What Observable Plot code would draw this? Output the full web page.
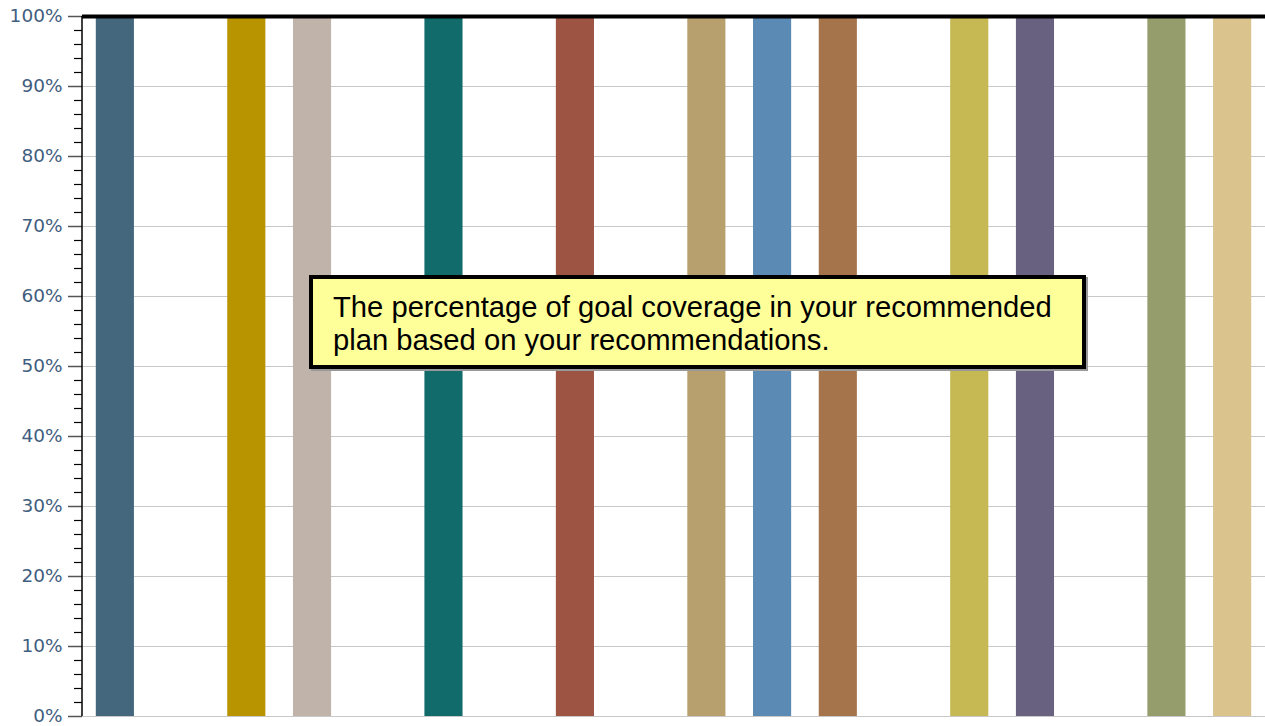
<!DOCTYPE html>
<html>
<head>
<meta charset="utf-8">
<script src="https://cdn.jsdelivr.net/npm/d3@7"></script>
<script src="https://cdn.jsdelivr.net/npm/@observablehq/plot@0.6"></script>
<style>
  html, body { margin: 0; padding: 0; background: #fff; }
  #wrap { position: relative; width: 1265px; height: 726px; }
  #note {
    position: absolute; left: 309px; top: 275px; width: 769px; height: 86px;
    box-sizing: content-box;
    border: 4px solid #000; background: #ffff99;
    box-shadow: 2px 2px 0 #999;
    font-family: "Liberation Sans", Arial, sans-serif; font-size: 29.2px; line-height: 33px;
    color: #000; padding: 0;
  }
  #note div { position: absolute; left: 20px; top: 12px; width: 748px; }
  #chart svg g[aria-label="y-axis tick label"] text { font-size: 18.5px; font-family: "DejaVu Sans", sans-serif; }
</style>
</head>
<body>
<div id="wrap">
  <div id="chart"></div>
  <div id="note"><div>The percentage of goal coverage in your recommended plan based on your recommendations.</div></div>
</div>
<script>
const categories = ["G1","G2","G3","G4","G5","G6","G7","G8","G9","G10","G11","G12","G13","G14","G15","G16","G17","G18"];
const values     = [100, 0, 100, 100, 0, 100, 0, 100, 0, 100, 100, 100, 0, 100, 100, 0, 100, 100];
const colors     = ["#44677d", "#ffffff", "#b89400", "#c0b3aa", "#ffffff", "#126b6b", "#ffffff", "#9e5442", "#ffffff",
                    "#b8a06e", "#5b8ab5", "#a5744a", "#ffffff", "#c6b852", "#68617f", "#ffffff", "#969d6c", "#dac38c"];
const majorTicks = d3.range(0, 101, 10);
const minorTicks = d3.range(0, 101, 2).filter(d => d % 10 !== 0);

const data = categories.map((c, i) => ({cat: c, value: values[i], color: colors[i]}));

const chart = Plot.plot({
  width: 1265,
  height: 726,
  marginLeft: 82,
  marginRight: 0,
  marginTop: 16,
  marginBottom: 10,
  style: {fontFamily: "DejaVu Sans, sans-serif", background: "#fff"},
  x: {domain: categories, paddingInner: 0.42, paddingOuter: 0.21, round: false, axis: null},
  y: {domain: [0, 100], axis: null},
  marks: [
    Plot.gridY(majorTicks, {stroke: "#c8c8c8", strokeOpacity: 1, strokeWidth: 1}),
    Plot.barY(data, {x: "cat", y: "value", fill: "color"}),
    Plot.axisY(minorTicks, {tickSize: 8, tickFormat: () => "", label: null, stroke: "#000", strokeWidth: 1.2}),
    Plot.axisY(majorTicks, {tickSize: 14, tickPadding: 6, tickFormat: d => d + "%", label: null, stroke: "#555", strokeWidth: 1.5, fill: "#3f5e80", fontSize: 18.5}),
    Plot.ruleY([100], {stroke: "#000", strokeWidth: 4})
  ]
});
// axis line along the left edge, drawn with the y scale
const ys = chart.scale("y");
const ns = "http://www.w3.org/2000/svg";
const line = document.createElementNS(ns, "line");
line.setAttribute("x1", 82); line.setAttribute("x2", 82);
line.setAttribute("y1", ys.apply(0)); line.setAttribute("y2", ys.apply(100));
line.setAttribute("stroke", "#000"); line.setAttribute("stroke-width", 1.5);
chart.appendChild(line);
document.getElementById("chart").appendChild(chart);
</script>
</body>
</html>
